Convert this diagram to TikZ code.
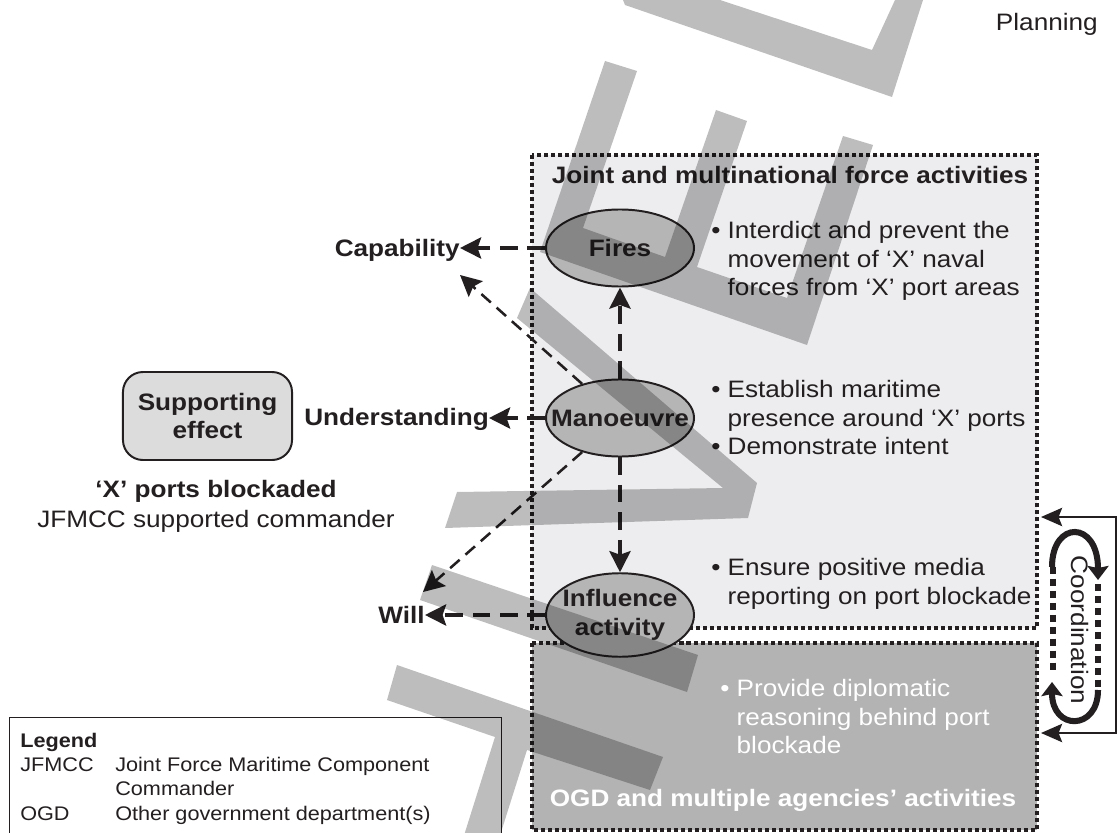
\documentclass[tikz,border=0pt]{standalone}
\usepackage{fontspec}
\setmainfont{Liberation Sans}[FakeStretch=1.1]
\usepackage{xcolor}
\usetikzlibrary{shapes.geometric,arrows.meta}

\definecolor{inkdark}{RGB}{35,31,32}
\definecolor{jointfill}{RGB}{237,237,239}
\definecolor{ogdfill}{RGB}{179,179,179}
\definecolor{effectfill}{RGB}{181,181,181}
\definecolor{supportfill}{RGB}{220,220,220}

\newcommand{\diagfont}{\fontsize{16.9}{20.3}\selectfont}

\begin{document}
\begin{tikzpicture}[x=0.025cm,y=-0.025cm,font=\diagfont,text=inkdark,
  area/.style={draw=inkdark,line width=2.85pt,dash pattern=on 2.85pt off 2.13pt},
  effect/.style={ellipse,draw=inkdark,line width=1.4pt,fill=effectfill,minimum width=3.7cm,minimum height=1.925cm,inner sep=0pt,font=\fontsize{16.9}{21}\selectfont\bfseries},
  outcome/.style={inner sep=0pt,font=\diagfont\bfseries},
  note/.style={inner sep=0pt,align=left},
  mainlink/.style={draw=inkdark,line width=2.6pt,dash pattern=on 12.5pt off 7pt,-{Stealth[length=15pt,width=15pt,inset=2.5pt]}},
  sidelink/.style={draw=inkdark,line width=1.8pt,dash pattern=on 9pt off 5.5pt,-{Stealth[length=15pt,width=15pt,inset=2.5pt]}},
  crosslink/.style={draw=inkdark,line width=1.5pt,{Stealth[length=15pt,width=13pt,inset=2.5pt]}-{Stealth[length=15pt,width=13pt,inset=2.5pt]}},
  crossarc/.style={draw=inkdark,line width=4.3pt,-{Stealth[length=10pt,width=15pt,inset=1.5pt]}},
  crossdots/.style={draw=inkdark,line width=4.6pt,dash pattern=on 5pt off 3.5pt},
  watermark/.style={fill=black,fill opacity=0.26}]

\useasboundingbox (0,0) rectangle (1117,833);
\fill[white] (0,0) rectangle (1117,833);

\node[anchor=base east,inner sep=0pt] (planning) at (1098,31) {Planning};

% activity areas
\draw[area,fill=jointfill] (532,155) rectangle (1037,628);
\draw[area,fill=ogdfill] (532,643) rectangle (1037,830);

\node[outcome,anchor=base] (jointtitle) at (790,183.5) {Joint and multinational force activities};
\node[outcome,anchor=base,text=white] (ogdtitle) at (783,806.5) {OGD and multiple agencies’ activities};

\node[note,anchor=north west] (firesnote) at (711,221) {• Interdict and prevent the\\\hphantom{•\ }movement of ‘X’ naval\\\hphantom{•\ }forces from ‘X’ port areas};
\node[note,anchor=north west] (manoeuvrenote) at (711,380) {• Establish maritime\\\hphantom{•\ }presence around ‘X’ ports\\• Demonstrate intent};
\node[note,anchor=north west] (influencenote) at (711,558) {• Ensure positive media\\\hphantom{•\ }reporting on port blockade};
\node[note,anchor=north west,text=white] (ogdnote) at (720,679) {• Provide diplomatic\\\hphantom{•\ }reasoning behind port\\\hphantom{•\ }blockade};

% effects
\node[effect] (fires) at (620,248) {\makebox[0pt]{Fires}};
\node[effect] (manoeuvre) at (620,418) {\makebox[0pt]{Manoeuvre}};
\node[effect] (influence) at (620,615) {\makebox[0pt]{\begin{tabular}{@{}c@{}}Influence\\activity\end{tabular}}};

\node[outcome,anchor=base east] (capability) at (460,256.5) {Capability};
\node[outcome,anchor=base east] (understanding) at (489,425.5) {Understanding};
\node[outcome,anchor=base east] (will) at (425,623.5) {Will};

\coordinate (capdiag) at (460,275);
\coordinate (willdiag) at (423,592);

\draw[mainlink] (manoeuvre.north) -- (fires.south);
\draw[mainlink] (manoeuvre.south) -- (influence.north);
\draw[mainlink] (fires.west) -- (capability.east |- fires.west);
\draw[mainlink] (manoeuvre.west) -- (understanding.east |- manoeuvre.west);
\draw[mainlink] (influence.west) -- (will.east |- influence.west);
\draw[sidelink] (manoeuvre.138) -- (capdiag);
\draw[sidelink] (manoeuvre.222) -- (willdiag);

% supporting effect
\node[draw=inkdark,line width=1.4pt,fill=supportfill,rounded corners=0.5cm,minimum width=4.225cm,minimum height=2.2cm,align=center,inner sep=0pt,font=\fontsize{16.9}{20.6}\selectfont\bfseries] (support) at (207.5,416) {Supporting\\effect};
\node[anchor=north,align=center,inner sep=0pt,font=\fontsize{16.9}{21.3}\selectfont] (blockade) at (216,480) {\textbf{‘X’ ports blockaded}\\JFMCC supported commander};

% coordination
\coordinate (crdtop) at (1041,517);
\coordinate (crdbot) at (1041,733);
\draw[crosslink] (crdtop) -- ++(75,0) |- (crdbot);
\draw[crossdots] (1053,567) -- (1053,673);
\draw[crossdots] (1098,584) -- (1098,690);
\draw[crossarc] (1052,567) .. controls (1052,520) and (1098,520) .. (1098,580);
\draw[crossarc] (1098,690) .. controls (1098,731) and (1052,731) .. (1052,682);
\node[rotate=-90,inner sep=0pt] (coordination) at (1080,630) {Coordination};

% legend
\draw[inkdark,line width=0.7pt] (9,717) rectangle (501,860);
\node[anchor=north west,inner sep=0pt,font=\fontsize{14}{17.3}\selectfont] (legend) at (20,730) {\begin{tabular}{@{}p{2.375cm}@{}l@{}}
\textbf{Legend} & \\
JFMCC & Joint Force Maritime Component\\
 & Commander\\
OGD & Other government department(s)
\end{tabular}};

% watermark strokes
\fill[watermark] (623,0) -- (625,5) -- (892,97) -- (923,0) -- (895,0) -- (872,50) -- (720,0) -- cycle
  (605,61) -- (540,252) -- (807,345) -- (873,145) -- (843,136) -- (787,298) -- (697,267) -- (747,121) -- (716,110) -- (665,257) -- (583,228) -- (637,71) -- cycle
  (517,318) -- (530,288) -- (757,483) -- (748,518) -- (445,528) -- (457,492) -- (723,488) -- cycle
  (432,565) -- (698,655) -- (687,692) -- (420,600) -- cycle
  (397,665) -- (663,757) -- (650,790) -- (527,750) -- (497,845) -- (461,845) -- (495,737) -- (387,700) -- cycle;
\end{tikzpicture}
\end{document}
